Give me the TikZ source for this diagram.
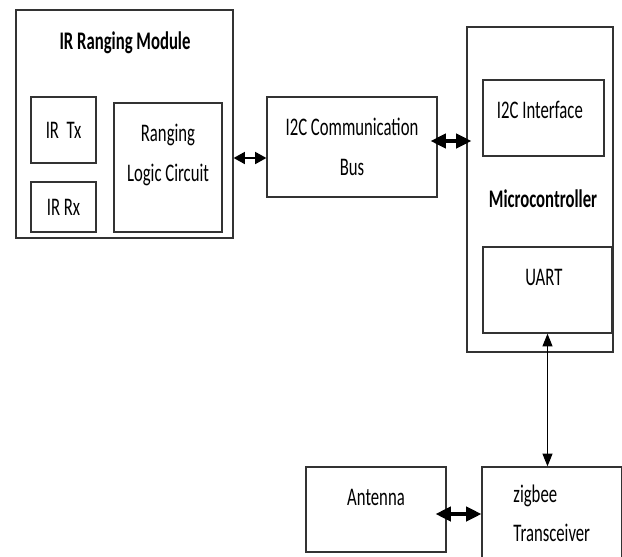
\documentclass[tikz,border=0pt]{standalone}
\usepackage{fontspec}
\setmainfont[FakeStretch=0.66]{Carlito}
\usetikzlibrary{arrows.meta}

\begin{document}
\begin{tikzpicture}[
    box/.style={draw=black!80, line width=0.9pt, rectangle, inner sep=0pt, align=center, font=\fontsize{18}{28}\selectfont},
    lbl/.style={align=center, font=\fontsize{18}{28}\selectfont},
    heading/.style={font=\fontsize{18}{28}\selectfont\bfseries},
    thinarr/.style={{Triangle[length=0.28cm,width=0.3cm]}-{Triangle[length=0.28cm,width=0.3cm]}, line width=1.1pt},
    fatarr/.style={{Triangle[length=0.38cm,width=0.36cm]}-{Triangle[length=0.38cm,width=0.36cm]}, line width=2.2pt},
    vertarr/.style={{Triangle[length=0.32cm,width=0.25cm]}-{Triangle[length=0.32cm,width=0.25cm]}, line width=0.8pt}
]
        \useasboundingbox (0,0) rectangle (15.55,-13.9);
        \clip (0,0) rectangle (15.55,-13.9);

        % IR ranging module
        \node[box, minimum width=5.425cm, minimum height=5.7cm] (irmod) at (3.1125,-3.1) {};
        \node[heading] (title) at (3.125,-1.075) {IR Ranging Module};
        \node[box, minimum width=1.625cm, minimum height=1.65cm] (irtx) at (1.5875,-3.25) {IR\ \ Tx};
        \node[box, minimum width=1.625cm, minimum height=1.25cm] (irrx) at (1.5875,-5.175) {IR Rx};
        \node[box, minimum width=2.7cm, minimum height=3.225cm,
              label={[lbl, yshift=0.31cm]center:{Ranging\\Logic Circuit}}] (logic) at (4.2,-4.1875) {};

        % Bus
        \node[box, minimum width=4.25cm, minimum height=2.5cm] (bus) at (8.8,-3.675) {I2C Communication\\Bus};

        % Microcontroller
        \node[box, minimum width=3.65cm, minimum height=8.125cm] (micro) at (13.5,-4.7375) {};
        \node[box, minimum width=3.025cm, minimum height=1.9cm,
              label={[lbl, xshift=-0.09cm, yshift=0.2cm]center:I2C Interface}] (i2cif) at (13.5875,-2.95) {};
        \node[heading] (mclabel) at (13.575,-4.975) {Microcontroller};
        \node[box, minimum width=3.225cm, minimum height=2.15cm,
              label={[lbl, xshift=-0.09cm, yshift=0.325cm]center:UART}] (uart) at (13.6875,-7.25) {};

        % Radio
        \node[box, minimum width=3.5cm, minimum height=2.125cm,
              label={[lbl, yshift=0.29cm]center:Antenna}] (antenna) at (9.4,-12.7375) {};
        \node[box, align=left, minimum width=3.4875cm, minimum height=2.325cm] (zigbee) at (13.79375,-12.8375) {zigbee\\Transceiver};

        % Connections
        \coordinate (buslo) at ([yshift=-0.275cm]bus.west);
        \coordinate (bushi) at ([yshift=0.15cm]bus.east);
        \coordinate (antlo) at ([yshift=-0.1125cm]antenna.east);
        \draw[thinarr] (irmod.east |- buslo) -- (buslo);
        \draw[fatarr, shorten <=-0.175cm, shorten >=-0.125cm] (bushi) -- (micro.west |- bushi);
        \draw[vertarr] (uart.south) -- (uart.south |- zigbee.north);
        \draw[fatarr, shorten <=-0.275cm] (antlo) -- (zigbee.west |- antlo);
    \end{tikzpicture}
\end{document}
